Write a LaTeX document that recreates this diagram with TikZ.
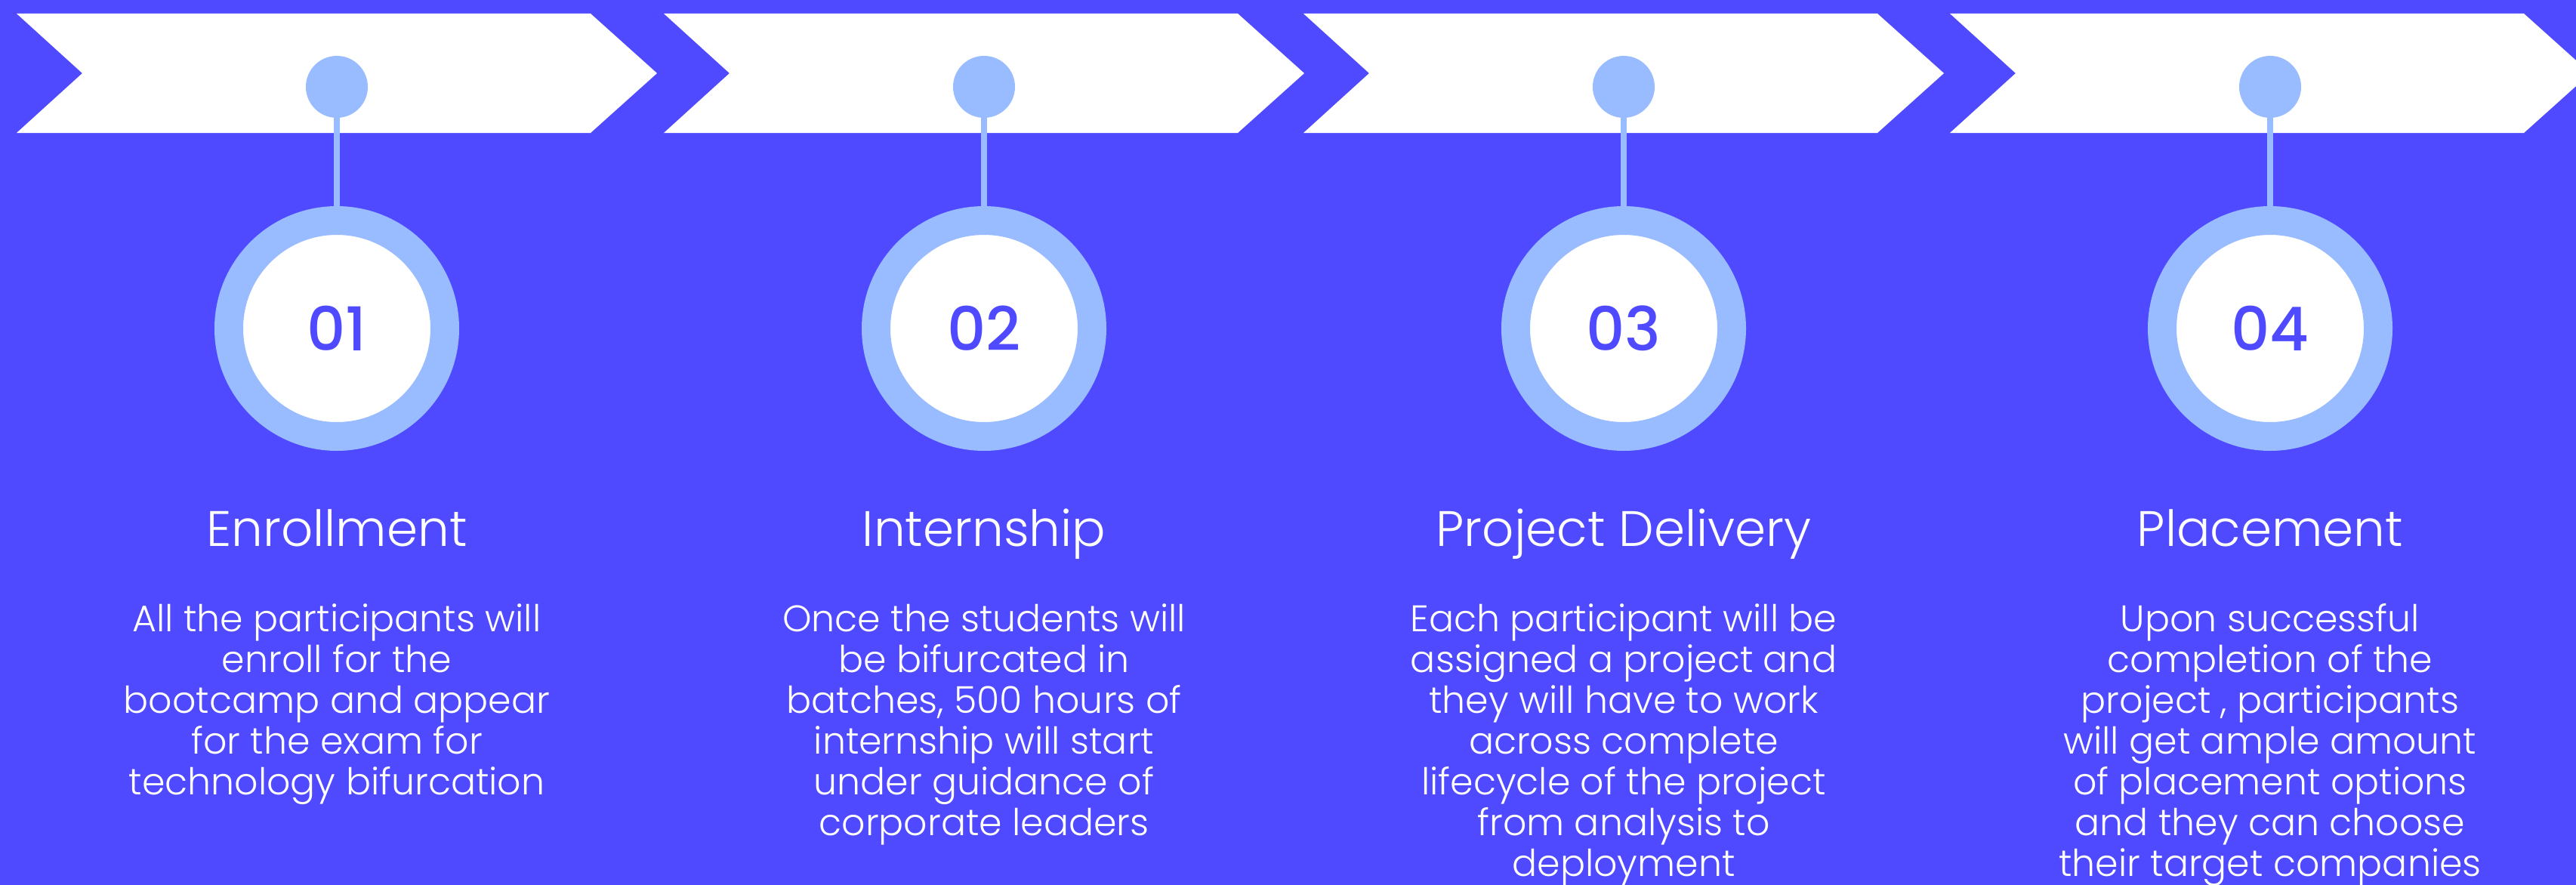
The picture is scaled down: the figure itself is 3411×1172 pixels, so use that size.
\documentclass[tikz,border=0pt]{standalone}
\usepackage{fontspec}
\setmainfont{Poppins}[UprightFont={* Light}]
\newfontfamily\numfont{Poppins}[UprightFont={* Medium}]
\begin{document}
\begin{tikzpicture}[x=1pt,y=-1pt]
\definecolor{bg}{HTML}{4F4AFF}
\definecolor{ring}{HTML}{99BBFF}
\tikzset{
  chev/.style={fill=white},
  dotnode/.style={circle, fill=ring, minimum size=82pt, inner sep=0pt},
  stem/.style={draw=ring, line width=8pt},
  badge/.style={circle, fill=white, draw=ring, line width=38pt, minimum size=286pt, inner sep=0pt, text=bg, font=\numfont\fontsize{80}{80}\selectfont},
  ttl/.style={text=white, font=\fontsize{66}{70}\selectfont, anchor=base, inner sep=0pt},
  bodytext/.style={text=white, font=\fontsize{49}{54}\selectfont, align=center, anchor=base, inner sep=0pt},
}
\fill[bg] (0,0) rectangle (3411,1172);
\useasboundingbox (0,0) rectangle (3411,1172);
\clip (0,0) rectangle (3411,1172);
\foreach \i/\L in {1/22,2/879,3/1726,4/2582}{
  \fill[chev] (\L,18) -- ({\L+760},18) -- ({\L+848},97) -- ({\L+760},176) -- (\L,176) -- ({\L+87},97) -- cycle;
  \node[dotnode] (dot\i) at ({\L+424},115) {};
  \node[badge] (badge\i) at ({\L+424},435) {0\i};
  \draw[stem] (dot\i.south) -- (badge\i.north);
}
\node[ttl] (title1) at (446,723) {Enrollment};
\node[ttl] (title2) at (1303,723) {Internship};
\node[ttl] (title3) at (2150,723) {Project Delivery};
\node[ttl] (title4) at (3006,723) {Placement};
% base anchor of a multi-line node = baseline of its last line
\node[bodytext] (body1) at (446,1052) {All the participants will\\enroll for the\\bootcamp and appear\\for the exam for\\technology bifurcation};
\node[bodytext] (body2) at (1303,1106) {Once the students will\\be bifurcated in\\batches, 500 hours of\\internship will start\\under guidance of\\corporate leaders};
\node[bodytext] (body3) at (2150,1160) {Each participant will be\\assigned a project and\\they will have to work\\across complete\\lifecycle of the project\\from analysis to\\deployment};
\node[bodytext] (body4) at (3006,1160) {Upon successful\\completion of the\\project , participants\\will get ample amount\\of placement options\\and they can choose\\their target companies};
\end{tikzpicture}
\end{document}
